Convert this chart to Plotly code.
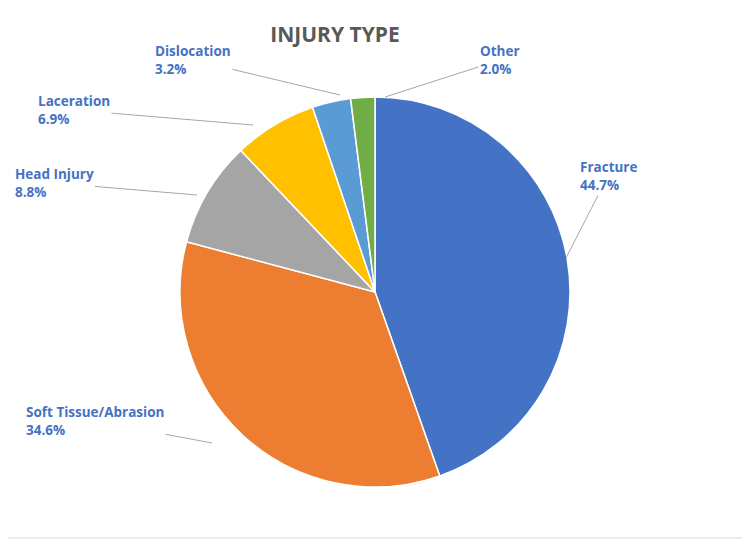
import plotly.graph_objects as go

labels = ["Fracture", "Soft Tissue/Abrasion", "Head Injury", "Laceration", "Dislocation", "Other"]
values = [44.7, 34.6, 8.8, 6.9, 3.2, 2.0]
colors = ["#4472C4", "#ED7D31", "#A5A5A5", "#FFC000", "#5B9BD5", "#70AD47"]

W, H = 750, 540
OFF = 8  # page offset compensation
L, R, T, B = 180 - OFF, 180 + OFF, 97 - OFF, 53 + OFF
pw, ph = W - L - R, H - T - B

def px2x(px):
    return (px - OFF - L) / pw

def py2y(py):
    return (H - B - (py - OFF)) / ph

placement = [
    (566, 258, 42, -82),
    (212, 443, -117, -22),
    (197, 195, -143, -12),
    (253, 125, -179, -15),
    (340, 95, -147, -35),
    (385, 97, 115, -37),
]

fig = go.Figure(go.Pie(
    labels=labels, values=values, sort=False, direction="clockwise", rotation=0,
    marker=dict(colors=colors, line=dict(color="white", width=1.5)),
    textinfo="none", hoverinfo="label+percent", showlegend=False,
))

anns = []
for lab, v, (px, py, ax, ay) in zip(labels, values, placement):
    anns.append(dict(
        x=px2x(px), y=py2y(py), xref="paper", yref="paper",
        text=f"<b>{lab}<br>{v:.1f}%</b>", showarrow=True, arrowhead=0,
        arrowcolor="#A6A6A6", arrowwidth=1, ax=ax, ay=ay, align="left",
        font=dict(family="Open Sans", size=13.5, color="#4472C4"),
    ))

fig.update_layout(
    width=W, height=H, margin=dict(l=L, r=R, t=T, b=B),
    paper_bgcolor="white", plot_bgcolor="white",
    title=dict(text="<b>INJURY TYPE</b>", x=(335 - OFF) / W, xanchor="center", y=1 - (35 - OFF) / H,
               yanchor="middle", font=dict(family="Open Sans", size=21, color="#595959")),
    annotations=anns,
    shapes=[dict(type="rect", xref="paper", yref="paper",
                 x0=px2x(1), x1=px2x(748), y0=py2y(538), y1=py2y(1),
                 line=dict(color="#D9D9D9", width=1))],
)
fig.write_html("out.html")
